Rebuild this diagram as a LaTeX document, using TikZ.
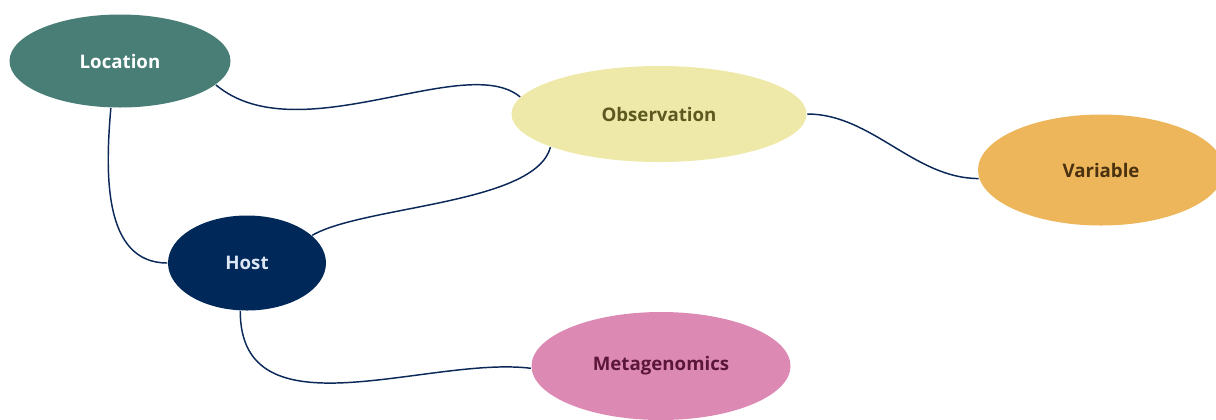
\documentclass[tikz,border=0pt]{standalone}
\usepackage{fontspec}
\setmainfont{Open Sans}
\usetikzlibrary{shapes.geometric}
\definecolor{locfill}{HTML}{487E76}
\definecolor{obsfill}{HTML}{EFE9A9}
\definecolor{obstext}{HTML}{5C5820}
\definecolor{varfill}{HTML}{EDB65A}
\definecolor{vartext}{HTML}{4A3210}
\definecolor{hostfill}{HTML}{00295A}
\definecolor{hosttext}{HTML}{DCE6F4}
\definecolor{metafill}{HTML}{DC8AB3}
\definecolor{metatext}{HTML}{5B1639}
\definecolor{linkcol}{HTML}{0A2858}

\begin{document}
\begin{tikzpicture}[x=0.75pt,y=-0.75pt,line width=1.1pt,
		base node/.style={ellipse,inner sep=0pt,font=\bfseries\fontsize{14}{16}\selectfont},
		dims/.style 2 args={minimum width=0.75*#1pt,minimum height=0.75*#2pt},
		link/.style={draw=linkcol}]
		\useasboundingbox (0,0) rectangle (1216,419);

		\node[base node,fill=locfill,text=white,dims={221}{93}] (loc) at (120,61) {Location};
		\node[base node,fill=obsfill,text=obstext,dims={295}{96}] (obs) at (659,114) {Observation};
		\node[base node,fill=varfill,text=vartext,dims={246}{111}] (var) at (1101,170) {Variable};
		\node[base node,fill=hostfill,text=hosttext,dims={158}{95}] (host) at (247,263) {Host};
		\node[base node,fill=metafill,text=metatext,dims={259}{108}] (meta) at (661,366) {Metagenomics};

		\path[link]
		(loc.-14) edge[out=-40,in=140,out looseness=0.9,in looseness=0.6] (obs.173)
		(loc.-101) edge[out=-95,in=180,looseness=1] (host.180)
		(obs.197) edge[out=-105,in=30,looseness=0.6] (host.23)
		(obs.0) edge[out=0,in=180,looseness=0.9] (var.184)
		(host.-98) edge[out=-90,in=173,out looseness=1.1,in looseness=0.9] (meta.181);

		\end{tikzpicture}
\end{document}
